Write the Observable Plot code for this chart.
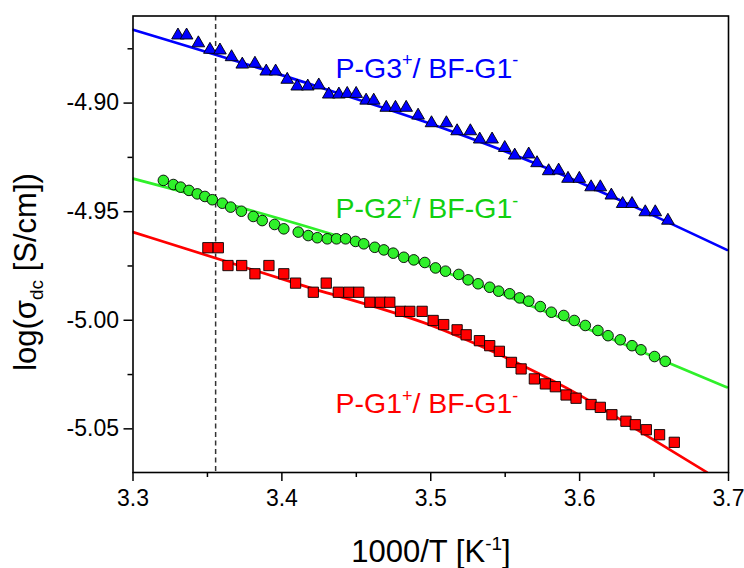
<!DOCTYPE html>
<html><head><meta charset="utf-8">
<script src="https://cdn.jsdelivr.net/npm/d3@7"></script>
<script src="https://cdn.jsdelivr.net/npm/@observablehq/plot@0.6"></script>
<style>
body{margin:0;background:#fff;}
#chart svg{display:block;}
</style></head><body><div id="chart"></div>
<script>
// ---- data ----
const g3T = [3.3302,3.3360,3.3439,3.3517,3.3584,3.3662,3.3734,3.3819,3.3895,3.3958,3.4036,3.4103,3.4174,3.4248,3.4315,3.4383,3.4439,3.4499,3.4566,3.4617,3.4701,3.4763,3.4835,3.4915,3.5005,3.5105,3.5177,3.5266,3.5329,3.5412,3.5497,3.5564,3.5658,3.5714,3.5792,3.5859,3.5922,3.5998,3.6077,3.6139,3.6213,3.6289,3.6352,3.6441,3.6508,3.6593];
const g3Log = [-4.8688,-4.8688,-4.8724,-4.8754,-4.8757,-4.8788,-4.8822,-4.8818,-4.8854,-4.8854,-4.8892,-4.8923,-4.8923,-4.8918,-4.8960,-4.8960,-4.8957,-4.8957,-4.8988,-4.8988,-4.9021,-4.9021,-4.9021,-4.9057,-4.9092,-4.9092,-4.9129,-4.9129,-4.9167,-4.9167,-4.9206,-4.9241,-4.9236,-4.9276,-4.9313,-4.9310,-4.9348,-4.9348,-4.9387,-4.9387,-4.9425,-4.9464,-4.9464,-4.9502,-4.9502,-4.9541];

const g2T = [3.3204,3.3271,3.3320,3.3376,3.3432,3.3483,3.3533,3.3600,3.3656,3.3728,3.3808,3.3868,3.3951,3.4013,3.4110,3.4177,3.4238,3.4305,3.4367,3.4428,3.4495,3.4550,3.4624,3.4685,3.4748,3.4819,3.4886,3.4960,3.5032,3.5099,3.5188,3.5251,3.5318,3.5396,3.5456,3.5530,3.5597,3.5658,3.5736,3.5810,3.5893,3.5964,3.6038,3.6123,3.6191,3.6273,3.6352,3.6412,3.6503,3.6575];
const g2Log = [-4.9356,-4.9375,-4.9387,-4.9402,-4.9418,-4.9430,-4.9445,-4.9461,-4.9479,-4.9498,-4.9522,-4.9541,-4.9559,-4.9579,-4.9594,-4.9610,-4.9620,-4.9625,-4.9625,-4.9625,-4.9637,-4.9648,-4.9664,-4.9676,-4.9691,-4.9710,-4.9722,-4.9734,-4.9759,-4.9774,-4.9789,-4.9814,-4.9832,-4.9848,-4.9866,-4.9878,-4.9897,-4.9912,-4.9937,-4.9963,-4.9978,-5.0001,-5.0024,-5.0047,-5.0071,-5.0090,-5.0117,-5.0136,-5.0167,-5.0189];

const g1T = [3.3503,3.3573,3.3638,3.3730,3.3819,3.3913,3.4013,3.4092,3.4211,3.4298,3.4379,3.4450,3.4517,3.4591,3.4662,3.4725,3.4797,3.4859,3.4942,3.5016,3.5087,3.5177,3.5238,3.5327,3.5396,3.5461,3.5542,3.5607,3.5696,3.5770,3.5837,3.5909,3.5976,3.6077,3.6139,3.6217,3.6311,3.6374,3.6448,3.6537,3.6636];
const g1Log = [-4.9666,-4.9666,-4.9748,-4.9748,-4.9786,-4.9748,-4.9786,-4.9829,-4.9871,-4.9829,-4.9871,-4.9871,-4.9871,-4.9917,-4.9917,-4.9917,-4.9959,-4.9959,-4.9959,-5.0001,-5.0020,-5.0044,-5.0067,-5.0094,-5.0117,-5.0143,-5.0194,-5.0224,-5.0270,-5.0293,-5.0306,-5.0344,-5.0359,-5.0388,-5.0401,-5.0435,-5.0465,-5.0481,-5.0504,-5.0527,-5.0562];

// fitted curves
const fitG3T = [3.30,3.4260,3.5065,3.5736,3.6273,3.6989];
const fitG3Log = [-4.8662,-4.8928,-4.9111,-4.9287,-4.9448,-4.9676];
const fitG2T = [3.30,3.4327,3.5032,3.5736,3.6575,3.6989];
const fitG2Log = [-4.9348,-4.9602,-4.9762,-4.9951,-5.0190,-5.0309];
const fitG1T = [3.30,3.4126,3.5065,3.5602,3.6005,3.6407,3.6855];
const fitG1Log = [-4.9594,-4.9837,-5.0040,-5.0204,-5.0347,-5.0513,-5.0700];

const roomTempT = 3.3555; // dashed reference line

const xTicks = [3.3,3.4,3.5,3.6,3.7];
const xMinorTicks = [3.35,3.45,3.55,3.65];
const yTicks = [-4.90,-4.95,-5.00,-5.05];
const yMinorTicks = [-4.875,-4.925,-4.975,-5.025];

const seriesNames = ["P-G3", "P-G2", "P-G1"];
const labelT = [3.436, 3.436, 3.436];
const labelLog = [-4.8842, -4.9488, -5.0386];
const labelColors = ["#0000ff", "#10d010", "#ff0000"];

// ---- build ----
const toRows = (xs, ys) => xs.map((x, i) => ({x, y: ys[i]}));
const blue = "#0000ff", green = "#2ff02a", red = "#ff0000";
const FONT = "'Liberation Sans', Arial, sans-serif";

const labelRows = seriesNames.map((n, i) => ({name: n, x: labelT[i], y: labelLog[i], c: labelColors[i]}));

const chart = Plot.plot({
  width: 744,
  height: 568,
  marginLeft: 132.5,
  marginRight: 16,
  marginTop: 15.5,
  marginBottom: 96,
  style: {fontFamily: FONT, background: "#fff", color: "#000"},
  x: {domain: [3.3, 3.7]},
  y: {domain: [-5.0701, -4.8599]},
  marks: [
    Plot.ruleX([roomTempT], {stroke: "#333", strokeWidth: 1.5, strokeDasharray: "5,3.5"}),
    Plot.line(toRows(fitG3T, fitG3Log), {x: "x", y: "y", stroke: blue, strokeWidth: 2.7, curve: "monotone-x", clip: true}),
    Plot.line(toRows(fitG2T, fitG2Log), {x: "x", y: "y", stroke: green, strokeWidth: 2.7, curve: "monotone-x", clip: true}),
    Plot.line(toRows(fitG1T, fitG1Log), {x: "x", y: "y", stroke: red, strokeWidth: 2.7, curve: "monotone-x", clip: true}),
    Plot.dot(toRows(g3T, g3Log), {x: "x", y: "y", symbol: "triangle", r: 4.7, fill: blue, stroke: "#000", strokeWidth: 0.9}),
    Plot.dot(toRows(g2T, g2Log), {x: "x", y: "y", symbol: "circle", r: 5.3, fill: green, stroke: "#000", strokeWidth: 0.9}),
    Plot.dot(toRows(g1T, g1Log), {x: "x", y: "y", symbol: "square", r: 5.8, fill: red, stroke: "#000", strokeWidth: 0.9}),
    Plot.text(labelRows, {x: "x", y: "y", text: "name", fill: "c", textAnchor: "start", lineAnchor: "middle", fontSize: 28.5}),
    Plot.frame({stroke: "#000", strokeWidth: 1.6}),
    Plot.axisX(xTicks, {tickSize: 9, tickPadding: 8, fontSize: 23, strokeWidth: 1.5, tickFormat: d => d.toFixed(1), label: null}),
    Plot.axisX(xMinorTicks, {tickSize: 5, strokeWidth: 1.5, tickFormat: () => "", label: null}),
    Plot.axisY(yTicks, {tickSize: 9, tickPadding: 5, fontSize: 23, strokeWidth: 1.5, tickFormat: d => d.toFixed(2), label: null}),
    Plot.axisY(yMinorTicks, {tickSize: 5, strokeWidth: 1.5, tickFormat: () => "", label: null})
  ]
});

document.getElementById("chart").appendChild(chart);

// rich text helper: parts [{t, dy (px offset from baseline), size}]
function richText(textSel, parts) {
  textSel.text(null);
  let cur = 0;
  for (const p of parts) {
    const target = p.dy || 0;
    const ts = textSel.append("tspan").text(p.t);
    if (target !== cur) ts.attr("dy", target - cur);
    if (p.size) ts.attr("font-size", p.size);
    cur = target;
  }
}

const svg = d3.select(chart);
const charges = [["+", "-"], ["+", "-"], ["+", "-"]];
svg.selectAll("text").each(function() {
  const el = d3.select(this);
  const i = seriesNames.indexOf(el.text());
  if (i < 0) return;
  richText(el, [
    {t: seriesNames[i]},
    {t: charges[i][0], dy: -11.5, size: 18},
    {t: "/ BF-G1", dy: 0},
    {t: charges[i][1], dy: -11.5, size: 18},
  ]);
});

// axis titles
const xTitle = svg.append("text")
  .attr("x", 431).attr("y", 561.5)
  .attr("text-anchor", "middle")
  .attr("font-family", FONT).attr("font-size", 31).attr("fill", "#000");
richText(xTitle, [
  {t: "1000/T [K"},
  {t: "-1", dy: -12, size: 19},
  {t: "]", dy: 0}
]);

const yTitle = svg.append("text")
  .attr("transform", "translate(36,272) rotate(-90)")
  .attr("text-anchor", "middle")
  .attr("font-family", FONT).attr("font-size", 31).attr("fill", "#000");
richText(yTitle, [
  {t: "log(σ"},
  {t: "dc", dy: 7, size: 19},
  {t: " [S/cm])", dy: 0}
]);
</script>
</body></html>
